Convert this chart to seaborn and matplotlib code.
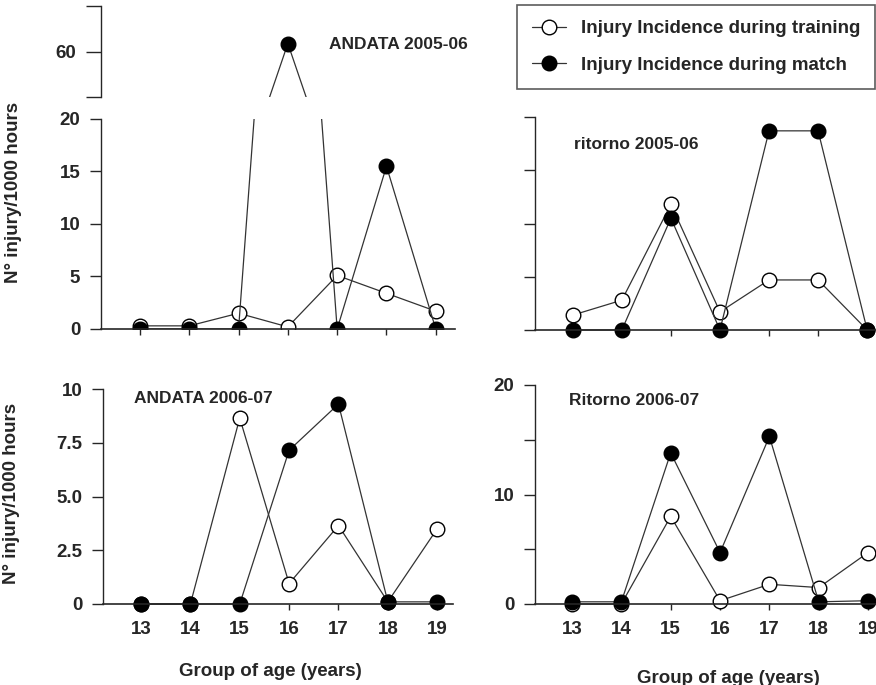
import numpy as np
import pandas as pd
import matplotlib
matplotlib.use("Agg")
import matplotlib.pyplot as plt
from matplotlib.lines import Line2D
import seaborn as sns

# Data
ages = [13, 14, 15, 16, 17, 18, 19]

andata0506_training = [0.3, 0.3, 1.5, 0.2, 5.1, 3.4, 1.7]
andata0506_match = [0, 0, 0, 63.5, 0, 15.5, 0]

ritorno0506_training = [1.4, 2.8, 11.8, 1.7, 4.7, 4.7, 0]
ritorno0506_match = [0, 0, 10.5, 0, 18.7, 18.7, 0]

andata0607_training = [0, 0, 8.65, 0.95, 3.65, 0.1, 3.5]
andata0607_match = [0, 0, 0, 7.15, 9.3, 0.1, 0.1]

ritorno0607_training = [0, 0, 8.0, 0.3, 1.8, 1.5, 4.7]
ritorno0607_match = [0.2, 0.2, 13.8, 4.7, 15.3, 0.2, 0.3]

lbl_train = "Injury Incidence during training"
lbl_match = "Injury Incidence during match"
ylab = "N° injury/1000 hours"
xlab = "Group of age (years)"

sns.set_style("ticks")
plt.rcParams["font.family"] = ["Liberation Sans", "DejaVu Sans"]
plt.rcParams["font.weight"] = "bold"

FS = 13.5
W, H = 876, 685
fig = plt.figure(figsize=(W / 100, H / 100), dpi=100)


def add_ax(x0, x1, y0, y1):
    # pixel box -> figure fraction
    return fig.add_axes([x0 / W, 1 - y1 / H, (x1 - x0) / W, (y1 - y0) / H])


def draw(ax, train, match):
    df = pd.DataFrame({"age": ages, "training": train, "match": match})
    common = dict(marker="o", markersize=10.5, markeredgecolor="black",
                  markeredgewidth=1.0, color="#333333", linewidth=0.9)
    sns.lineplot(data=df, x="age", y="training", ax=ax, markerfacecolor="white",
                 label=lbl_train, legend=False, **common)
    sns.lineplot(data=df, x="age", y="match", ax=ax, markerfacecolor="black",
                 label=lbl_match, legend=False, **common)
    for ln in ax.lines:
        ln.set_clip_on(False)


def style(ax, xlim, ylim, yticks, yticklabels, xlabels):
    sns.despine(ax=ax)
    ax.set_xlim(*xlim)
    ax.set_ylim(*ylim)
    ax.set_yticks(yticks)
    ax.set_yticklabels(yticklabels)
    ax.set_xticks(ages)
    ax.set_xticklabels([str(a) for a in ages] if xlabels else [])
    ax.tick_params(axis="y", length=8, width=1, labelsize=FS, pad=7)
    ax.tick_params(axis="x", length=4, width=1, labelsize=FS, pad=8)
    ax.spines["left"].set_linewidth(1)
    ax.spines["bottom"].set_linewidth(1.2)
    ax.set_xlabel("")
    ax.set_ylabel("")


# Top-left: broken axis
ax_tl_hi = add_ax(101, 455, 6, 97)
ax_tl = add_ax(101, 455, 119, 329)
draw(ax_tl, andata0506_training, andata0506_match)
draw(ax_tl_hi, andata0506_training, andata0506_match)
for ln in ax_tl.lines + ax_tl_hi.lines:
    ln.set_clip_on(True)
style(ax_tl, (12.21, 19.39), (0, 20), [0, 5, 10, 15, 20],
      ["0", "5", "10", "15", "20"], False)
style(ax_tl_hi, (12.21, 19.39), (40, 80), [40, 60, 80], ["", "60", ""], False)
ax_tl_hi.spines["bottom"].set_visible(False)
ax_tl_hi.tick_params(axis="x", length=0)
ax_tl_hi.tick_params(axis="y", length=11)
ax_tl.set_ylabel(ylab, fontsize=FS, fontweight="bold")
ax_tl.yaxis.set_label_coords(-0.223, 0.652)
ax_tl_hi.text(0.645, 0.58, "ANDATA 2005-06", transform=ax_tl_hi.transAxes,
              fontsize=12.5, fontweight="bold", va="center")

# Top-right
ax_tr = add_ax(535, 876, 117, 330)
draw(ax_tr, ritorno0506_training, ritorno0506_match)
style(ax_tr, (12.23, 19.18), (0, 20), [0, 5, 10, 15, 20], [""] * 5, False)
ax_tr.text(0.115, 0.87, "ritorno 2005-06", transform=ax_tr.transAxes,
           fontsize=12.5, fontweight="bold", va="center")

# Bottom-left
ax_bl = add_ax(103, 453, 389, 604)
draw(ax_bl, andata0607_training, andata0607_match)
style(ax_bl, (12.23, 19.32), (0, 10), [0, 2.5, 5, 7.5, 10],
      ["0", "2.5", "5.0", "7.5", "10"], True)
ax_bl.set_ylabel(ylab, fontsize=FS, fontweight="bold")
ax_bl.yaxis.set_label_coords(-0.237, 0.516)
ax_bl.set_xlabel(xlab, fontsize=FS, fontweight="bold")
ax_bl.xaxis.set_label_coords(0.477, -0.274)
ax_bl.text(0.09, 0.955, "ANDATA 2006-07", transform=ax_bl.transAxes,
           fontsize=12.5, fontweight="bold", va="center")

# Bottom-right
ax_br = add_ax(535, 876, 385, 604)
draw(ax_br, ritorno0607_training, ritorno0607_match)
style(ax_br, (12.25, 19.16), (0, 20), [0, 5, 10, 15, 20],
      ["0", "", "10", "", "20"], True)
ax_br.set_xlabel(xlab, fontsize=FS, fontweight="bold")
ax_br.xaxis.set_label_coords(0.566, -0.30)
ax_br.text(0.1, 0.93, "Ritorno 2006-07", transform=ax_br.transAxes,
           fontsize=12.5, fontweight="bold", va="center")

# Legend
handles = [
    Line2D([], [], color="#333333", lw=0.9, marker="o", markersize=10.5,
           markerfacecolor="white", markeredgecolor="black"),
    Line2D([], [], color="#333333", lw=0.9, marker="o", markersize=10.5,
           markerfacecolor="black", markeredgecolor="black"),
]
leg = fig.legend(handles, [lbl_train, lbl_match], loc="upper left",
                 bbox_to_anchor=(517 / W, 1 - 5 / H), frameon=True,
                 fancybox=False, edgecolor="#333333", fontsize=FS,
                 handlelength=1.8, labelspacing=1.05, borderpad=0.8,
                 handletextpad=0.8, borderaxespad=0)
leg.get_frame().set_linewidth(1.2)
for t in leg.get_texts():
    t.set_fontweight("bold")

fig.savefig("out.png", dpi=100)
